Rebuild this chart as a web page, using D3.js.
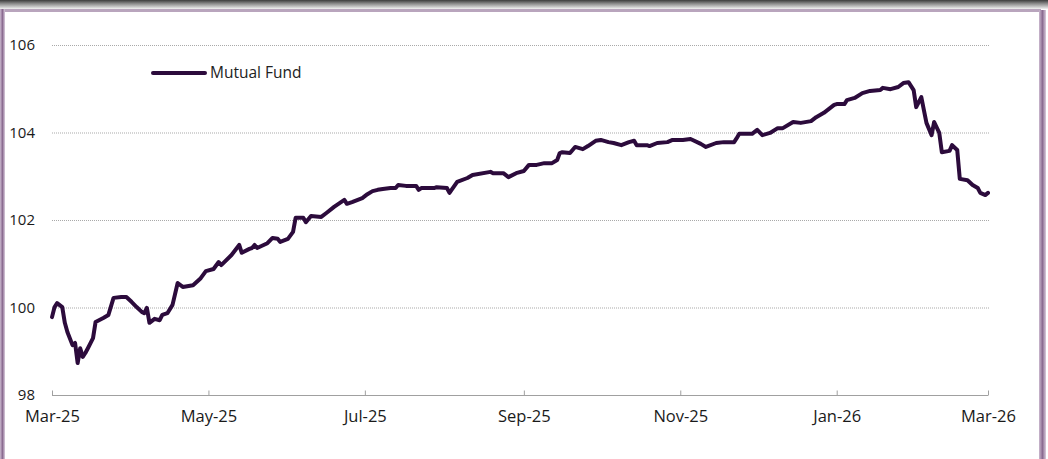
<!DOCTYPE html>
<html>
<head>
<meta charset="utf-8">
<script src="https://cdn.jsdelivr.net/npm/d3@7"></script>
<style>
    html, body { margin: 0; padding: 0; background: #fff; }
    svg { display: block; }
    text { font-family: "Open Sans", "DejaVu Sans", sans-serif; }
</style>
</head>
<body>
<div id="chart"></div>
<script>
(function () {
    "use strict";

    // values
    var dates = [
        "2025-03-01", "2025-03-02", "2025-03-03", "2025-03-05", "2025-03-06", "2025-03-07", "2025-03-09", "2025-03-10",
        "2025-03-11", "2025-03-12", "2025-03-13", "2025-03-14", "2025-03-15", "2025-03-17", "2025-03-18", "2025-03-21",
        "2025-03-23", "2025-03-25", "2025-03-28", "2025-03-30", "2025-04-01", "2025-04-03", "2025-04-05", "2025-04-06",
        "2025-04-07", "2025-04-08", "2025-04-10", "2025-04-12", "2025-04-13", "2025-04-15", "2025-04-17", "2025-04-19",
        "2025-04-21", "2025-04-25", "2025-04-28", "2025-04-30", "2025-05-03", "2025-05-05", "2025-05-06", "2025-05-10",
        "2025-05-13", "2025-05-14", "2025-05-17", "2025-05-18", "2025-05-19", "2025-05-20", "2025-05-24", "2025-05-26",
        "2025-05-28", "2025-05-29", "2025-06-01", "2025-06-03", "2025-06-04", "2025-06-07", "2025-06-08", "2025-06-10",
        "2025-06-14", "2025-06-16", "2025-06-19", "2025-06-23", "2025-06-24", "2025-06-26", "2025-06-30", "2025-07-02",
        "2025-07-04", "2025-07-06", "2025-07-08", "2025-07-11", "2025-07-13", "2025-07-14", "2025-07-17", "2025-07-21",
        "2025-07-22", "2025-07-23", "2025-07-28", "2025-07-29", "2025-08-02", "2025-08-03", "2025-08-06", "2025-08-10",
        "2025-08-12", "2025-08-19", "2025-08-20", "2025-08-24", "2025-08-26", "2025-08-29", "2025-09-01", "2025-09-03",
        "2025-09-06", "2025-09-09", "2025-09-12", "2025-09-14", "2025-09-15", "2025-09-16", "2025-09-19", "2025-09-21",
        "2025-09-24", "2025-09-26", "2025-09-29", "2025-10-01", "2025-10-04", "2025-10-06", "2025-10-09", "2025-10-12",
        "2025-10-14", "2025-10-15", "2025-10-19", "2025-10-20", "2025-10-23", "2025-10-27", "2025-10-29", "2025-11-02",
        "2025-11-05", "2025-11-09", "2025-11-11", "2025-11-15", "2025-11-18", "2025-11-22", "2025-11-23", "2025-11-24",
        "2025-11-29", "2025-12-01", "2025-12-03", "2025-12-06", "2025-12-09", "2025-12-11", "2025-12-15", "2025-12-18",
        "2025-12-22", "2025-12-24", "2025-12-27", "2025-12-31", "2026-01-01", "2026-01-04", "2026-01-05", "2026-01-08",
        "2026-01-11", "2026-01-14", "2026-01-18", "2026-01-19", "2026-01-22", "2026-01-25", "2026-01-27", "2026-01-29",
        "2026-01-31", "2026-02-01", "2026-02-03", "2026-02-04", "2026-02-05", "2026-02-07", "2026-02-08", "2026-02-10",
        "2026-02-11", "2026-02-14", "2026-02-15", "2026-02-17", "2026-02-18", "2026-02-21", "2026-02-23", "2026-02-25",
        "2026-02-26", "2026-02-28", "2026-03-01"
    ];

    var fundValues = [
        99.78, 100.01, 100.10, 100.01, 99.65, 99.44, 99.14, 99.19,
        98.73, 99.07, 98.87, 98.96, 99.07, 99.30, 99.67, 99.76,
        99.83, 100.22, 100.24, 100.24, 100.13, 100.01, 99.90, 99.87,
        99.99, 99.65, 99.74, 99.71, 99.83, 99.87, 100.06, 100.56,
        100.47, 100.51, 100.67, 100.83, 100.88, 101.04, 100.97, 101.20,
        101.43, 101.25, 101.34, 101.36, 101.43, 101.36, 101.47, 101.59,
        101.57, 101.50, 101.57, 101.73, 102.05, 102.05, 101.95, 102.09,
        102.07, 102.16, 102.30, 102.46, 102.37, 102.41, 102.50, 102.59,
        102.66, 102.69, 102.71, 102.73, 102.73, 102.80, 102.78, 102.78,
        102.69, 102.73, 102.73, 102.75, 102.73, 102.62, 102.87, 102.96,
        103.03, 103.10, 103.07, 103.07, 102.98, 103.07, 103.12, 103.26,
        103.26, 103.30, 103.30, 103.37, 103.53, 103.55, 103.53, 103.67,
        103.62, 103.69, 103.81, 103.83, 103.78, 103.76, 103.71, 103.78,
        103.81, 103.71, 103.71, 103.69, 103.76, 103.78, 103.83, 103.83,
        103.85, 103.74, 103.67, 103.76, 103.78, 103.78, 103.87, 103.97,
        103.97, 104.06, 103.94, 103.99, 104.10, 104.10, 104.24, 104.22,
        104.26, 104.35, 104.45, 104.63, 104.65, 104.65, 104.74, 104.79,
        104.90, 104.95, 104.97, 105.02, 104.99, 105.04, 105.13, 105.15,
        104.97, 104.58, 104.81, 104.51, 104.22, 103.94, 104.24, 103.99,
        103.55, 103.58, 103.71, 103.60, 102.94, 102.91, 102.80, 102.73,
        102.62, 102.57, 102.62
    ];

    var seriesName = "Mutual Fund";
    var yTicks = [98, 100, 102, 104, 106];
    var xTickLabels = ["Mar-25", "May-25", "Jul-25", "Sep-25", "Nov-25", "Jan-26", "Mar-26"];

    var W = 1048, H = 459;
    var lineColor = "#2c0b3c";

    var parse = d3.timeParse("%Y-%m-%d");
    var fmtTick = d3.timeFormat("%b-%y");
    var tickDates = xTickLabels.map(function (s) { return d3.timeParse("%b-%y")(s); });

    var data = dates.map(function (d, i) {
        return { date: parse(d), value: fundValues[i] };
    });

    var svg = d3.select("#chart").append("svg")
        .attr("width", W)
        .attr("height", H);

    // frame: dark top strip, purple border
    var defs = svg.append("defs");
    var gTop = defs.append("linearGradient").attr("id", "gTop")
        .attr("x1", 0).attr("y1", 0).attr("x2", 0).attr("y2", 1);
    gTop.append("stop").attr("offset", "0%").attr("stop-color", "#3c3c3c");
    gTop.append("stop").attr("offset", "40%").attr("stop-color", "#8a8a8a");
    gTop.append("stop").attr("offset", "100%").attr("stop-color", "#f2f2f2");

    var gSide = defs.append("linearGradient").attr("id", "gSide")
        .attr("x1", 0).attr("y1", 0).attr("x2", 1).attr("y2", 0);
    gSide.append("stop").attr("offset", "0%").attr("stop-color", "#cbb9cf");
    gSide.append("stop").attr("offset", "50%").attr("stop-color", "#8b6c91");
    gSide.append("stop").attr("offset", "100%").attr("stop-color", "#d9ccdc");

    svg.append("rect").attr("x", 0).attr("y", 0).attr("width", W).attr("height", 9)
        .attr("fill", "url(#gTop)");
    svg.append("rect").attr("x", 3).attr("y", 9).attr("width", 1038).attr("height", 3)
        .attr("fill", "#b9a5bd");
    svg.append("rect").attr("x", 0).attr("y", 9).attr("width", 5).attr("height", H - 9)
        .attr("fill", "url(#gSide)");
    svg.append("rect").attr("x", 1039).attr("y", 10).attr("width", 7).attr("height", H - 10)
        .attr("fill", "url(#gSide)");

    // scales
    var x = d3.scaleTime()
        .domain([parse("2025-03-01"), parse("2026-03-01")])
        .range([52, 988]);

    var y = d3.scaleLinear()
        .domain([98, 106])
        .range([395, 45]);

    // gridlines
    svg.append("g")
        .selectAll("line")
        .data(yTicks.filter(function (d) { return d !== 98; }))
        .enter()
        .append("line")
        .attr("x1", 52)
        .attr("x2", 990)
        .attr("y1", function (d) { return y(d) + 0.5; })
        .attr("y2", function (d) { return y(d) + 0.5; })
        .attr("stroke", "#a9a9a9")
        .attr("stroke-width", 1)
        .attr("stroke-dasharray", "1,1");

    // y axis labels
    svg.append("g")
        .selectAll("text")
        .data(yTicks)
        .enter()
        .append("text")
        .attr("x", 35)
        .attr("y", function (d) { return y(d); })
        .attr("dy", "0.35em")
        .attr("text-anchor", "end")
        .attr("font-size", 15)
        .attr("fill", "#1a1a1a")
        .text(function (d) { return d; });

    // x axis
    var xAxis = d3.axisBottom(x)
        .tickValues(tickDates)
        .tickFormat(fmtTick)
        .tickSize(6)
        .tickPadding(6);

    var gx = svg.append("g")
        .attr("transform", "translate(0," + (y(98) + 0.5) + ")")
        .call(xAxis);
    gx.select(".domain").attr("stroke", "#a0a0a0").attr("d", "M52,0H988");
    gx.selectAll(".tick line").attr("stroke", "#a0a0a0").attr("y1", 0).attr("y2", -5);
    gx.selectAll(".tick text")
        .attr("font-size", 16.5)
        .attr("fill", "#1a1a1a")
        .attr("font-family", "'Open Sans', 'DejaVu Sans', sans-serif")
        .attr("dy", "0.85em");

    // the line
    var line = d3.line()
        .x(function (d) { return x(d.date); })
        .y(function (d) { return y(d.value); });

    svg.append("path")
        .datum(data)
        .attr("d", line)
        .attr("fill", "none")
        .attr("stroke", lineColor)
        .attr("stroke-width", 4)
        .attr("stroke-linejoin", "round")
        .attr("stroke-linecap", "round");

    // legend
    var legend = svg.append("g").attr("transform", "translate(153,73)");
    legend.append("line")
        .attr("x1", 0).attr("x2", 52)
        .attr("y1", 0).attr("y2", 0)
        .attr("stroke", lineColor)
        .attr("stroke-width", 4)
        .attr("stroke-linecap", "round");
    legend.append("text")
        .attr("x", 57)
        .attr("y", 0)
        .attr("dy", "0.35em")
        .attr("font-size", 15.5)
        .attr("fill", "#222")
        .text(seriesName);

})();
</script>
</body>
</html>
